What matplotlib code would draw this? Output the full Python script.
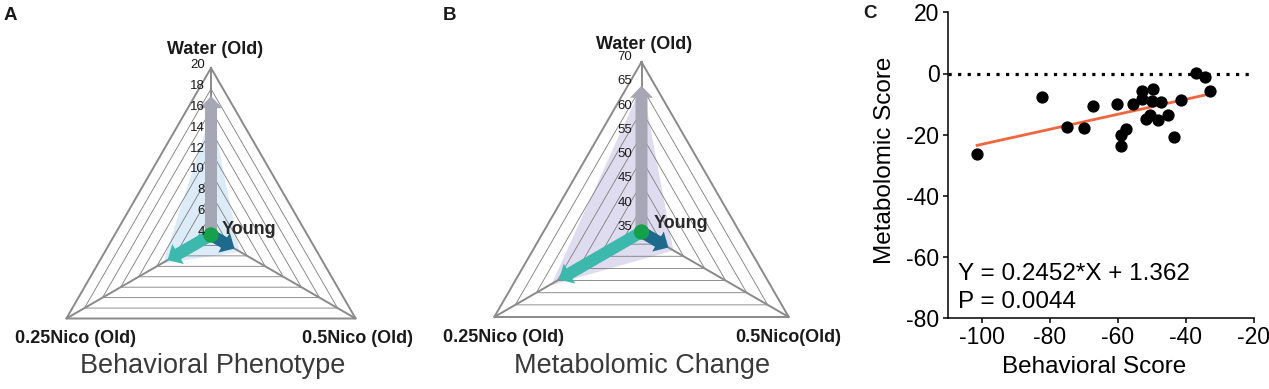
import numpy as np
import matplotlib
matplotlib.use("Agg")
import matplotlib.pyplot as plt
from matplotlib.patches import FancyArrow, Polygon, Circle

plt.rcParams["font.family"] = ["Liberation Sans", "DejaVu Sans"]
plt.rcParams["axes.unicode_minus"] = False

W, H = 1269, 389

# --- data -------------------------------------------------------------
# radar axes, in drawing order: top, bottom-left, bottom-right
names_a = ["Water (Old)", "0.25Nico (Old)", "0.5Nico (Old)"]
names_b = ["Water (Old)", "0.25Nico (Old)", "0.5Nico(Old)"]

# A: behavioral phenotype
ticks_a = [4, 6, 8, 10, 12, 14, 16, 18, 20]
arrow_a = [17.3, 8.8, 6.6]      # arrow tips (Water, 0.25Nico, 0.5Nico)
spread_a = [15.0, 9.0, 6.9]     # shaded region
young_a = 4

# B: metabolomic change
ticks_b = [35, 40, 45, 50, 55, 60, 65, 70]
arrow_b = [65.1, 54.6, 41.4]
spread_b = [64.0, 55.6, 42.0]
young_b = 35

# C: correlation
behav_score = [-101.3, -82.3, -75.0, -69.8, -67.3, -60.2, -59.0, -58.9,
               -57.6, -55.5, -52.8, -52.7, -51.6, -50.4, -49.9, -49.7,
               -48.0, -47.2, -45.2, -43.5, -41.3, -36.8, -34.4, -32.7]
metab_score = [-26.4, -7.8, -17.4, -17.9, -10.6, -10.1, -20.1, -23.6,
               -18.0, -10.1, -5.8, -8.4, -14.9, -13.4, -9.0, -5.1,
               -15.2, -9.3, -13.4, -20.7, -8.7, 0.1, -1.1, -5.6]
slope, intercept = 0.2452, 1.362
p_value = 0.0044
xticks_c = [-100, -80, -60, -40, -20]
yticks_c = [-80, -60, -40, -20, 0, 20]

# --- style ------------------------------------------------------------
ANG = np.deg2rad([90, 210, 330])
ARROW_COLS = ["#a5a7b4", "#3cb8ad", "#1d6a8d"]
GREEN = "#17a04b"
TXT = "#1a1a1a"

fig = plt.figure(figsize=(W / 100, H / 100), dpi=100)


def to_xy(vals, vmin, vmax):
    r = (np.asarray(vals, float) - vmin) / (vmax - vmin)
    return r * np.cos(ANG), r * np.sin(ANG)


def radar(x0, x1, cx, cy, R, ticks, arrows, spread, young, fill_col,
          names, name_pos, title, title_x, label_gap, label_off, young_pos,
          bottom_label, bottom_pos):
    ax = fig.add_axes([x0 / W, 0, (x1 - x0) / W, 1])
    ax.set_xlim((x0 - cx) / R, (x1 - cx) / R)
    ax.set_ylim((cy - H) / R, cy / R)
    ax.axis("off")

    def P(px, py):
        return (px - cx) / R, (cy - py) / R

    vmin, vmax = ticks[0], ticks[-1]

    # shaded region
    sx, sy = to_xy(spread, vmin, vmax)
    ax.add_patch(Polygon(np.column_stack([sx, sy]), closed=True,
                         fc=fill_col, ec=fill_col, lw=3, zorder=1))

    # rings
    for v in ticks[1:]:
        rx, ry = to_xy([v] * 3, vmin, vmax)
        outer = v == vmax
        ax.plot(np.append(rx, rx[0]), np.append(ry, ry[0]),
                color="#8a8a8a" if outer else "#7c7c7c",
                lw=1.4 if outer else 0.6, zorder=2, solid_joinstyle="miter")
    # spokes
    ex, ey = to_xy([vmax] * 3, vmin, vmax)
    for x, y in zip(ex, ey):
        ax.plot([0, x], [0, y], color="#8a8a8a", lw=1.4, zorder=2)

    # tick labels on the top spoke
    for v in ticks:
        r = (v - vmin) / (vmax - vmin)
        ax.text(-label_gap / R, r - label_off / R, str(v), ha="right",
                va="center", fontsize=9.5, color=TXT, zorder=5)

    # arrows
    ax_, ay_ = to_xy(arrows, vmin, vmax)
    for x, y, col in zip(ax_, ay_, ARROW_COLS):
        ax.add_patch(FancyArrow(0, 0, x, y, width=12 / R, head_width=23 / R,
                                head_length=12 / R, length_includes_head=True,
                                color=col, lw=0, zorder=3))

    # young point at centre
    yr = (young - vmin) / (vmax - vmin)
    ax.add_patch(Circle((yr * np.cos(ANG[0]), yr * np.sin(ANG[0])), 7 / R,
                        color=GREEN, zorder=4))
    ax.text(*P(*young_pos), "Young", ha="left", va="baseline",
            fontsize=13, fontweight="bold", color="#2a2a2a", zorder=5)

    for name, (px, py, ha) in zip(names, name_pos):
        ax.text(*P(px, py), name, ha=ha, va="baseline", fontsize=13,
                fontweight="bold", color=TXT)

    ax.text(*P(*bottom_pos), bottom_label, ha="center", va="baseline",
            fontsize=19.5, color="#3a3a3a")
    fig.text(title_x / W, 1 - 15 / H, title, ha="center", va="center",
             fontsize=13.5, fontweight="bold", color=TXT)


radar(0, 420, 211, 235, 167, ticks_a, arrow_a, spread_a, young_a, "#dcebf8",
      names_a, [(215.5, 54, "center"), (75, 343, "center"), (357.5, 343, "center")],
      "A", 10, 6, -3, (222, 234.5), "Behavioral Phenotype", (212.5, 373.3))

radar(420, 845, 641.5, 232, 170, ticks_b, arrow_b, spread_b, young_b, "#e0dcef",
      names_b, [(644, 49.3, "center"), (503.3, 342.3, "center"), (735, 342.3, "left")],
      "B", 450, 9, -5, (653.3, 228.3), "Metabolomic Change", (642.5, 373.3))

# --- C: scatter ------------------------------------------------------
axc = fig.add_axes([947.5 / W, (H - 318.3) / H, 306 / W, 306 / H])
axc.scatter(behav_score, metab_score, s=78, c="black", lw=0, zorder=3)
xs = np.array([min(behav_score), max(behav_score)])
axc.plot(xs, slope * xs + intercept, color="#f0663e", lw=2, zorder=2)
axc.axhline(0, color="black", lw=2.3, ls=(0, (1, 2)), zorder=1)
axc.set_xlim(-110, -20)
axc.set_ylim(-80, 20)
axc.set_xticks(xticks_c)
axc.set_yticks(yticks_c)
for s in ["top", "right"]:
    axc.spines[s].set_visible(False)
for s in ["left", "bottom"]:
    axc.spines[s].set_linewidth(1.1)
axc.tick_params(direction="out", length=3.8, width=1.1, labelsize=16.5)
axc.tick_params(axis="x", pad=1.5)
axc.tick_params(axis="y", pad=2)
axc.text(-107, -67.5, f"Y = {slope}*X + {intercept}", fontsize=17.5,
         va="baseline", ha="left")
axc.text(-107, -76.7, f"P = {p_value}", fontsize=17.5, va="baseline", ha="left")

fig.text(885 / W, 1 - 160 / H, "Metabolomic Score", rotation=90,
         ha="center", va="center", fontsize=17.5)
fig.text(1094 / W, 1 - 373.3 / H, "Behavioral Score", ha="center",
         va="baseline", fontsize=17.5)
fig.text(870 / W, 1 - 14 / H, "C", ha="center", va="center",
         fontsize=13.5, fontweight="bold", color=TXT)

fig.savefig("out.png", dpi=100)
